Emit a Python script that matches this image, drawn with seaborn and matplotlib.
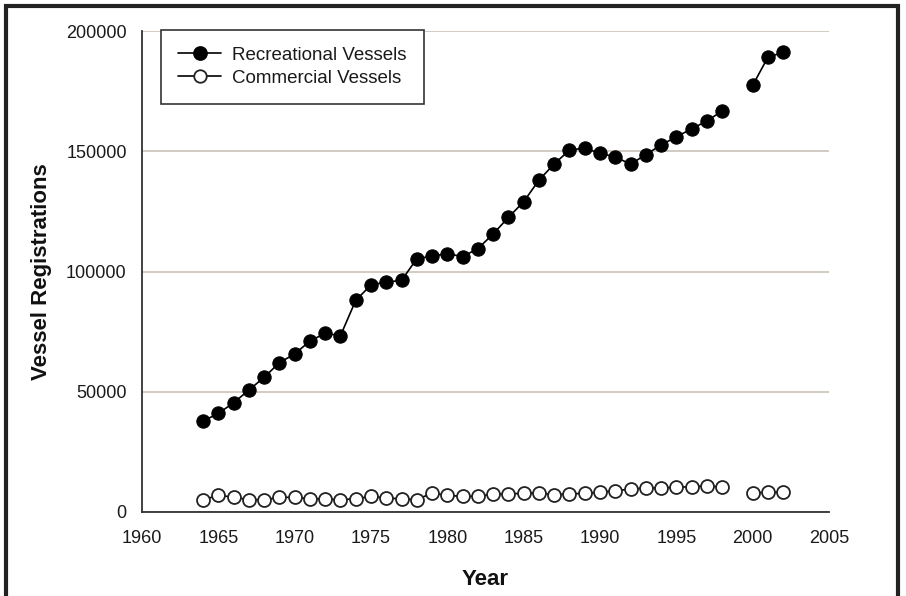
import numpy as np
import pandas as pd
import matplotlib
matplotlib.use("Agg")
import matplotlib.pyplot as plt
from matplotlib.lines import Line2D
from matplotlib.patches import Rectangle
import seaborn as sns

# Data (no 1999 survey)
years = [1964, 1965, 1966, 1967, 1968, 1969, 1970, 1971, 1972, 1973,
         1974, 1975, 1976, 1977, 1978, 1979, 1980, 1981, 1982, 1983,
         1984, 1985, 1986, 1987, 1988, 1989, 1990, 1991, 1992, 1993,
         1994, 1995, 1996, 1997, 1998, 2000, 2001, 2002]
recreational = [37800, 41000, 45400, 50700, 56000, 62100, 65700, 71100, 74300, 73300,
                88000, 94400, 95600, 96300, 105300, 106400, 107400, 106200, 109500, 115600,
                122500, 129000, 138000, 144700, 150500, 151300, 149100, 147700, 144600, 148600,
                152600, 156000, 159300, 162600, 166700, 177400, 189100, 191100]
commercial = [5100, 6900, 6200, 5100, 5100, 6100, 6100, 5500, 5400, 5100,
              5500, 6500, 5800, 5500, 5100, 7900, 6900, 6500, 6500, 7500,
              7500, 7800, 7900, 7200, 7500, 7800, 8200, 8900, 9500, 10000,
              10000, 10300, 10500, 10900, 10300, 7900, 8200, 8200]
series_labels = ["Recreational Vessels", "Commercial Vessels"]
x_ticks = list(range(1960, 2006, 5))
y_ticks = [0, 50000, 100000, 150000, 200000]

df = pd.DataFrame({"Year": years, "Recreational": recreational, "Commercial": commercial})
# line is broken where the 1999 value is missing
df["segment"] = (df["Year"] > 1998).astype(int)

sns.set_style("white")
plt.rcParams["font.family"] = ["Liberation Sans", "DejaVu Sans"]

fig = plt.figure(figsize=(9.06, 5.96), dpi=100)
ax = fig.add_axes([142 / 906, 1 - 512 / 596, (829 - 142) / 906, (512 - 31) / 596])

ax.grid(axis="y", color="#c9c2ba", lw=1.2, zorder=0)
ax.set_axisbelow(True)

sns.lineplot(data=df, x="Year", y="Recreational", units="segment", estimator=None,
             color="black", lw=1.2, marker="o", markersize=9.6,
             markerfacecolor="black", markeredgecolor="black", ax=ax, zorder=3)
sns.lineplot(data=df, x="Year", y="Commercial", units="segment", estimator=None,
             color="black", lw=1.2, marker="o", markersize=9.3, markeredgewidth=1.3,
             markerfacecolor="white", markeredgecolor="#222222", ax=ax, zorder=3)

ax.set_xlim(1960, 2005)
ax.set_ylim(0, 200000)
ax.set_xticks(x_ticks)
ax.set_yticks(y_ticks)
ax.set_yticklabels([str(v) for v in y_ticks])
ax.tick_params(axis="both", direction="out", length=4, width=1.2, color="#333333",
               labelsize=13, labelcolor="#1a1a1a", pad=7)
ax.tick_params(axis="x", pad=9)

for side in ["top", "right"]:
    ax.spines[side].set_visible(False)
for side in ["left", "bottom"]:
    ax.spines[side].set_color("#333333")
    ax.spines[side].set_linewidth(1.3)

ax.set_xlabel("Year", fontsize=16, fontweight="bold", labelpad=16, color="#111111")
ax.set_ylabel("Vessel Registrations", fontsize=16, fontweight="bold", labelpad=10, color="#111111")

handles = [
    Line2D([], [], color="black", lw=1.2, marker="o", markersize=9.6,
           markerfacecolor="black", markeredgecolor="black"),
    Line2D([], [], color="black", lw=1.2, marker="o", markersize=9.0, markeredgewidth=1.3,
           markerfacecolor="white", markeredgecolor="#222222"),
]
leg = ax.legend(handles, series_labels, loc="upper left", bbox_to_anchor=(0.028, 1.002),
                borderaxespad=0, fontsize=13.5, frameon=True, fancybox=False,
                edgecolor="#333333", framealpha=1, handlelength=2.3, handletextpad=0.6,
                labelspacing=0.3, borderpad=0.9)
leg.get_frame().set_linewidth(1.2)
for t in leg.get_texts():
    t.set_color("#1a1a1a")

# dark frame drawn round the whole figure (bottom edge is cropped off)
fig.patches.append(Rectangle((6 / 906, -0.05), (898 - 6) / 906, 1.05 - 5.5 / 596,
                             transform=fig.transFigure, fill=False,
                             edgecolor="#222222", lw=3, zorder=10))

fig.savefig("out.png", dpi=100)
